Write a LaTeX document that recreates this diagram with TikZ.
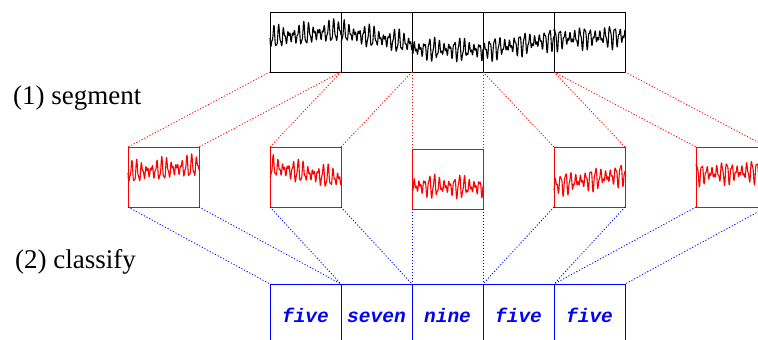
\documentclass[tikz,border=0pt]{standalone}
\usepackage{fontspec}
\setmainfont{Liberation Serif}
\newfontfamily\labelmono{Liberation Mono}
\begin{document}
\begin{tikzpicture}[x=1pt,y=-1pt,
  segbox/.style={draw=black,line width=0.9pt,minimum width=71pt,minimum height=60pt,inner sep=0pt,outer sep=0pt},
  cutbox/.style={draw=red,line width=0.9pt,minimum width=71pt,minimum height=60pt,inner sep=0pt,outer sep=0pt},
  labbox/.style={draw=blue,line width=0.9pt,minimum width=71pt,minimum height=67pt,inner sep=0pt,outer sep=0pt,
    text=blue,font=\labelmono\bfseries\itshape\fontsize{19.5}{20}\selectfont,text height=12pt,text depth=3pt},
  redlink/.style={red,line width=0.8pt,dash pattern=on 1.2pt off 1.8pt},
  bluelink/.style={blue,line width=0.8pt,dash pattern=on 1.2pt off 1.8pt},
  steplabel/.style={anchor=base west,inner sep=0pt,font=\fontsize{27}{30}\selectfont}]
\clip (0,0) rectangle (758,340);

% one stretch of signal: start level, end level, phase, colour (drawn from the box's west anchor)
\newcommand{\sigwave}[5]{%
  \begin{scope}[shift={(#1.west)}]
    \draw[#5,line width=1.1pt,line join=round] plot[domain=0:71,samples=220]
      (\x,{#2+(#3-#2)*\x/71+10.5*sin(72*\x+#4)*(0.65+0.35*sin(13*\x+2*#4))+3*sin(157*\x+3*#4)});
  \end{scope}}

% step labels
\node[steplabel] (l1) at (13,104) {(1) segment};
\node[steplabel] (l2) at (15,268) {(2) classify};

% recorded signal, split into segments
\node[segbox] (s1) at (305.5,42) {};
\node[segbox] (s2) at (376.5,42) {};
\node[segbox] (s3) at (447.5,42) {};
\node[segbox] (s4) at (518.5,42) {};
\node[segbox] (s5) at (589.5,42) {};
\sigwave{s1}{-4}{-11}{0}{black}
\sigwave{s2}{-10}{2}{40}{black}
\sigwave{s3}{7}{8}{95}{black}
\sigwave{s4}{8}{-3}{150}{black}
\sigwave{s5}{-3}{-6}{210}{black}

% the cut-out segments
\node[cutbox] (c1) at (163.5,177) {};
\node[cutbox] (c2) at (305.5,177) {};
\node[cutbox] (c3) at (447.5,179) {};
\node[cutbox] (c4) at (589.5,177) {};
\node[cutbox] (c5) at (731.5,177) {};
\sigwave{c1}{-4}{-11}{0}{red}
\sigwave{c2}{-10}{2}{40}{red}
\sigwave{c3}{7}{8}{95}{red}
\sigwave{c4}{8}{-3}{150}{red}
\sigwave{c5}{-3}{-6}{210}{red}

% class labels
\node[labbox] (b1) at (305.5,317.5) {five};
\node[labbox] (b2) at (376.5,317.5) {seven};
\node[labbox] (b3) at (447.5,317.5) {nine};
\node[labbox] (b4) at (518.5,317.5) {five};
\node[labbox] (b5) at (589.5,317.5) {five};

% segment -> cut-out -> class
\foreach \i in {1,...,5}{
  \draw[redlink] (s\i.south west) -- (c\i.north west);
  \draw[redlink] (s\i.south east) -- (c\i.north east);
  \draw[bluelink] (c\i.south west) -- (b\i.north west);
  \draw[bluelink] (c\i.south east) -- (b\i.north east);
}
\end{tikzpicture}
\end{document}
